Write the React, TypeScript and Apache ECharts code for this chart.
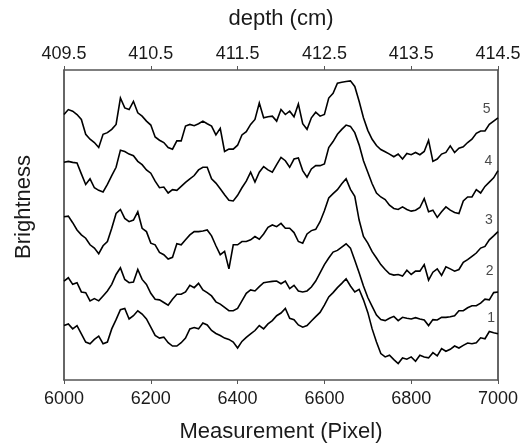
import React, { useEffect, useRef } from "react";
import * as echarts from "echarts";

// Sampling grid of the measurement axis (pixel index), step 10
const measurement: number[] = Array.from({ length: 101 }, (_, i) => 6000 + i * 10);

// Brightness profiles (arbitrary units), one value per measurement point
const profile1 = [
  165, 170, 155, 165, 140, 115, 110, 123, 133, 110,
  115, 155, 183, 213, 217, 185, 195, 210, 200, 185,
  160, 135, 127, 130, 113, 103, 103, 113, 127, 155,
  159, 155, 173, 167, 150, 141, 135, 127, 123, 115,
  97, 117, 129, 140, 150, 165, 155, 170, 180, 195,
  203, 217, 187, 183, 167, 160, 165, 179, 192, 205,
  227, 252, 265, 280, 293, 307, 285, 267, 275, 243,
  205, 155, 115, 80, 70, 75, 62, 50, 67, 63,
  70, 57, 75, 70, 67, 83, 73, 95, 87, 93,
  103, 97, 105, 112, 110, 113, 128, 125, 147, 143,
  140,
];
const profile2 = [
  300, 310, 290, 295, 267, 265, 240, 247, 240, 255,
  270, 290, 320, 340, 305, 295, 297, 335, 305, 290,
  263, 245, 243, 235, 227, 245, 260, 260, 267, 287,
  280, 293, 273, 265, 255, 237, 230, 220, 210, 210,
  217, 240, 263, 273, 270, 283, 295, 297, 299, 300,
  292, 300, 277, 287, 270, 267, 270, 282, 300, 325,
  350, 370, 388, 393, 403, 413, 400, 363, 325, 285,
  250, 223, 197, 183, 180, 187, 193, 180, 190, 187,
  185, 189, 185, 182, 165, 183, 182, 190, 190, 192,
  195, 210, 210, 219, 225, 225, 233, 245, 243, 265,
  267,
];
const profile3 = [
  495, 497, 477, 455, 440, 430, 410, 400, 383, 407,
  420, 460, 505, 517, 490, 480, 485, 510, 460, 450,
  415, 410, 387, 380, 367, 372, 413, 410, 425, 440,
  450, 450, 452, 455, 437, 407, 380, 390, 337, 410,
  410, 420, 420, 425, 435, 427, 443, 463, 470, 465,
  475, 460, 460, 447, 420, 415, 443, 453, 457, 480,
  513, 552, 565, 577, 595, 610, 578, 557, 485, 435,
  415, 389, 370, 350, 335, 322, 318, 320, 315, 333,
  320, 330, 330, 350, 303, 327, 337, 317, 343, 337,
  330, 335, 357, 365, 375, 385, 400, 405, 425, 437,
  450,
];
const profile4 = [
  660, 663, 660, 658, 625, 593, 610, 583, 575, 570,
  593, 620, 645, 697, 693, 685, 680, 663, 653, 637,
  627, 603, 583, 585, 567, 577, 575, 587, 599, 610,
  620, 637, 645, 645, 610, 597, 580, 562, 545, 543,
  560, 583, 603, 630, 600, 630, 647, 637, 630, 653,
  675, 665, 645, 670, 673, 635, 615, 640, 650, 650,
  655, 705, 723, 745, 760, 773, 769, 750, 713, 665,
  630, 595, 567, 555, 547, 530, 520, 517, 525, 517,
  512, 515, 523, 550, 510, 515, 493, 510, 525, 515,
  508, 505, 543, 555, 555, 577, 567, 587, 600, 613,
  635,
];
const profile5 = [
  805, 820, 815, 805, 790, 745, 730, 720, 705, 745,
  750, 760, 775, 855, 825, 820, 845, 810, 800, 785,
  773, 737, 727, 720, 705, 700, 725, 725, 770, 775,
  771, 777, 785, 777, 770, 743, 763, 693, 700, 700,
  712, 743, 753, 775, 790, 840, 795, 798, 800, 785,
  820, 805, 815, 798, 837, 777, 760, 795, 812, 800,
  805, 855, 869, 900, 903, 905, 907, 890, 845, 795,
  757, 730, 711, 699, 692, 685, 677, 685, 670, 687,
  683, 690, 683, 693, 727, 663, 670, 685, 690, 710,
  690, 703, 707, 720, 730, 748, 755, 755, 775, 785,
  795,
];

// Top axis tick labels (depth, cm)
const depthLabels = ["409.5", "410.5", "411.5", "412.5", "413.5", "414.5"];

// Profile number annotations (data coordinates)
const profileNames = ["1", "2", "3", "4", "5"];
const nameX = [6984, 6981, 6979, 6978, 6974];
const nameY = [190, 333, 487, 667, 825];

const FONT = "'Liberation Sans', Arial, Helvetica, sans-serif";
const TEXT = "#1a1a1a";
const AXIS = "#555555";

export default function App() {
  const ref = useRef<HTMLDivElement>(null);

  useEffect(() => {
    if (!ref.current) return;
    const chart = echarts.init(ref.current, null, { renderer: "svg" });
    const profiles = [profile1, profile2, profile3, profile4, profile5];

    const lineSeries = profiles.map((p, k) => ({
      type: "line",
      name: profileNames[k],
      xAxisIndex: 0,
      yAxisIndex: 0,
      data: measurement.map((x, i) => [x, p[i]]),
      showSymbol: false,
      symbol: "none",
      lineStyle: { color: "#000000", width: 1.6, join: "miter" },
      silent: true,
    }));

    chart.setOption({
      animation: false,
      textStyle: { fontFamily: FONT },
      grid: { left: 64, right: 33, top: 70, bottom: 63 },
      xAxis: [
        {
          type: "value",
          position: "bottom",
          min: 6000,
          max: 7000,
          interval: 200,
          splitLine: { show: false },
          axisLine: { show: true, onZero: false, lineStyle: { color: AXIS, width: 1.5 } },
          axisTick: { show: true, inside: false, length: 4, lineStyle: { color: AXIS } },
          axisLabel: {
            fontSize: 18,
            color: TEXT,
            margin: 9,
            fontFamily: FONT,
            showMinLabel: true,
            showMaxLabel: true,
            formatter: (v: number) => String(v),
          },
          name: "Measurement (Pixel)",
          nameLocation: "middle",
          nameGap: 39,
          nameTextStyle: { fontSize: 22, color: TEXT, fontFamily: FONT },
        },
        {
          type: "category",
          position: "top",
          data: depthLabels,
          boundaryGap: false,
          splitLine: { show: false },
          axisLine: { show: true, onZero: false, lineStyle: { color: AXIS, width: 1.5 } },
          axisTick: { show: true, inside: false, length: 4, interval: 0, lineStyle: { color: AXIS } },
          axisLabel: { fontSize: 18, color: TEXT, margin: 8, interval: 0, fontFamily: FONT },
          name: "depth (cm)",
          nameLocation: "middle",
          nameGap: 42,
          nameTextStyle: { fontSize: 22, color: TEXT, fontFamily: FONT },
        },
      ],
      yAxis: [
        {
          type: "value",
          position: "left",
          min: 0,
          max: 940,
          splitLine: { show: false },
          axisLine: { show: true, onZero: false, lineStyle: { color: "#333333", width: 1.5 } },
          axisTick: { show: false },
          axisLabel: { show: false },
        },
        {
          type: "value",
          position: "right",
          min: 0,
          max: 940,
          splitLine: { show: false },
          axisLine: { show: true, onZero: false, lineStyle: { color: "#333333", width: 1.5 } },
          axisTick: { show: false },
          axisLabel: { show: false },
        },
      ],
      graphic: [
        {
          type: "text",
          x: 22,
          y: 207,
          rotation: Math.PI / 2,
          style: {
            text: "Brightness",
            fontSize: 22,
            fontFamily: FONT,
            fill: TEXT,
            align: "center",
            verticalAlign: "middle",
          },
        },
      ],
      series: [
        ...lineSeries,
        {
          type: "scatter",
          xAxisIndex: 0,
          yAxisIndex: 0,
          symbolSize: 1,
          itemStyle: { color: "rgba(0,0,0,0)" },
          silent: true,
          data: profileNames.map((n, k) => [nameX[k], nameY[k], n]),
          label: {
            show: true,
            position: "inside",
            formatter: (p: any) => p.value[2],
            fontSize: 14,
            color: TEXT,
            fontFamily: FONT,
          },
        },
      ],
    });

    return () => chart.dispose();
  }, []);

  return (
    <div
      ref={ref}
      style={{ position: "fixed", left: 0, top: 0, width: 531, height: 446 }}
    />
  );
}
